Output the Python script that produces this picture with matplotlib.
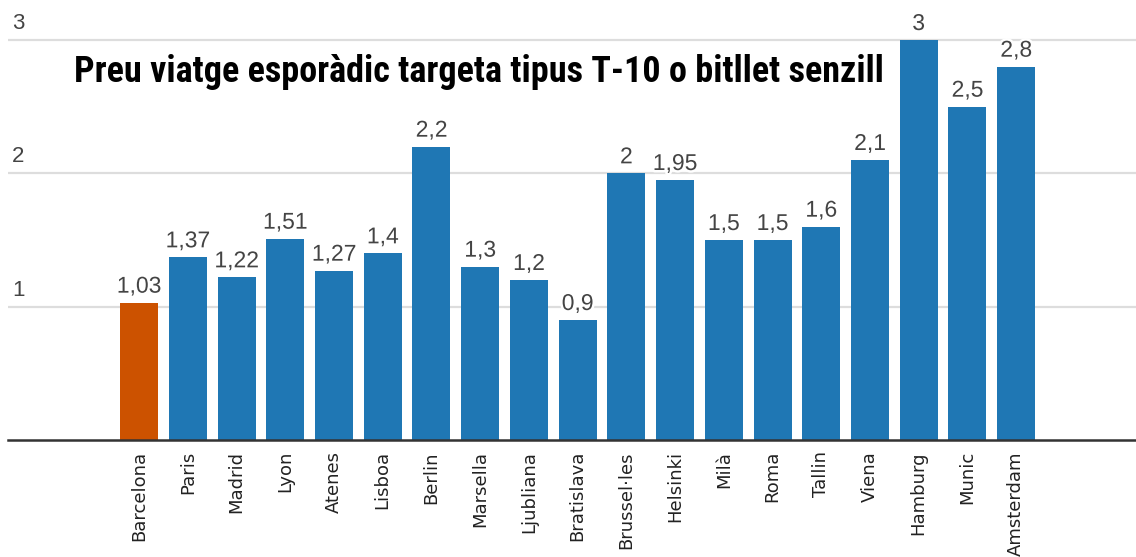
import matplotlib
matplotlib.use("Agg")
import matplotlib.pyplot as plt
import matplotlib.patheffects as pe
from matplotlib.transforms import blended_transform_factory, offset_copy

cities = ["Barcelona", "Paris", "Madrid", "Lyon", "Atenes", "Lisboa", "Berlin",
          "Marsella", "Ljubliana", "Bratislava", "Brussel·les", "Helsinki", "Milà",
          "Roma", "Tallin", "Viena", "Hamburg", "Munic", "Amsterdam"]
prices = [1.03, 1.37, 1.22, 1.51, 1.27, 1.4, 2.2, 1.3, 1.2, 0.9, 2.0, 1.95, 1.5,
          1.5, 1.6, 2.1, 3.0, 2.5, 2.8]
labels = ["1,03", "1,37", "1,22", "1,51", "1,27", "1,4", "2,2", "1,3", "1,2", "0,9",
          "2", "1,95", "1,5", "1,5", "1,6", "2,1", "3", "2,5", "2,8"]
highlight = "Barcelona"
yticks = [1, 2, 3]
title = "Preu viatge esporàdic targeta tipus T-10 o bitllet senzill"

blue = "#1f77b4"
orange = "#cc5200"
sans = ["Liberation Sans", "DejaVu Sans"]

fig = plt.figure(figsize=(11.36, 5.57), dpi=100)
ax = fig.add_axes([8/1136, 117/557, 1128/1136, 440/557])

x = list(range(len(cities)))
colors = [orange if c == highlight else blue for c in cities]
ax.bar(x, prices, width=0.78, color=colors, zorder=3)

ax.set_ylim(0, 3.3)
ax.set_xlim(-2.69, 20.46)

for s in ["top", "right", "left"]:
    ax.spines[s].set_visible(False)
ax.spines["bottom"].set_color("#333333")
ax.spines["bottom"].set_linewidth(1.8)
ax.spines["bottom"].set_zorder(4)

for v in yticks:
    ax.axhline(v, color="#dddddd", linewidth=1.6, zorder=1)
ax.set_yticks([])

trans = blended_transform_factory(ax.transAxes, ax.transData)
trans = offset_copy(trans, fig=fig, x=0, y=11, units="dots")
for v in yticks:
    ax.text(4/1128, v, str(v), transform=trans, ha="left", va="baseline",
            fontsize=16, color="#444444", family=sans)

stroke = [pe.withStroke(linewidth=3.5, foreground="white")]
for xi, p, lab in zip(x, prices, labels):
    ax.annotate(lab, (xi, p), xytext=(0, 7.2), textcoords="offset points",
                ha="center", va="baseline", fontsize=16.5, color="#444444",
                family=sans, path_effects=stroke, zorder=5)

ax.set_xticks(x)
ax.set_xticklabels(cities, rotation=90, fontsize=13, color="#222222",
                   va="top", ha="center", family=["DejaVu Sans"])
ax.tick_params(axis="x", length=0, pad=8)

fig.text(479/1136, 1 - 82/557, title, ha="center", va="baseline",
         fontsize=26, fontweight="bold", color="black",
         family=["Roboto Condensed", "DejaVu Sans"])

fig.savefig("out.png", dpi=100)
